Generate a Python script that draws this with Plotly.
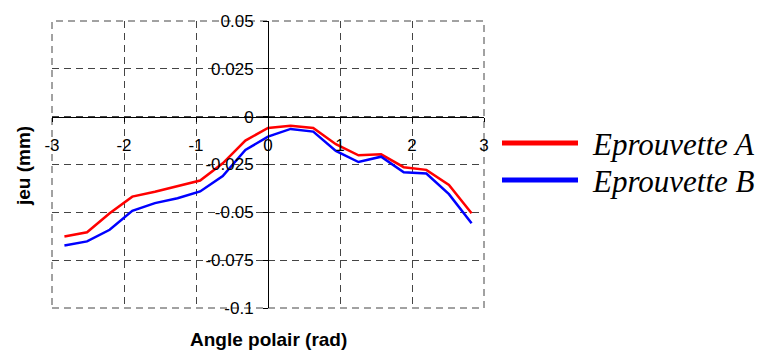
import numpy as np
import plotly.graph_objects as go

# angle polaire (rad) : -0.9*pi ... 0.9*pi, pas de pi/10
angles = [k * np.pi / 10 for k in range(-9, 10)]
jeu_A = [-0.0626, -0.0604, -0.0505, -0.0418, -0.0392, -0.0365, -0.0334, -0.0244, -0.0125,
         -0.0059, -0.0047, -0.0059, -0.0144, -0.0202, -0.0197, -0.0264, -0.0278, -0.0357, -0.0505]
jeu_B = [-0.0673, -0.0652, -0.0591, -0.0492, -0.0452, -0.0426, -0.0391, -0.0310, -0.0174,
         -0.0104, -0.0064, -0.0078, -0.0179, -0.0237, -0.0209, -0.0291, -0.0297, -0.0405, -0.0557]
noms = ["Eprouvette A", "Eprouvette B"]
couleurs = ["#ff0000", "#0000ff"]

x_ticks = [-3, -2, -1, 0, 1, 2, 3]
x_ticklabels = ["-3", "-2", "-1", "0", "1", "2", "3"]
y_ticks = [0.05, 0.025, 0, -0.025, -0.05, -0.075, -0.1]
y_ticklabels = ["0.05", "0.025", "0", "-0.025", "-0.05", "-0.075", "-0.1"]

fig = go.Figure()
for y, nom, c in zip([jeu_A, jeu_B], noms, couleurs):
    fig.add_trace(go.Scatter(x=angles, y=y, mode="lines", name=nom,
                             line=dict(color=c, width=2.5), showlegend=False))

W, H = 761, 351
l, r, t, b = 52, 277, 21, 43
pw, ph = W - l - r, H - t - b

def px(xp):
    return (xp - l) / pw

def py(yp):
    return (H - b - yp) / ph

axis_font = dict(family="Liberation Sans, Arial", size=17, color="black")
grille = "#444444"
tirets = "7px,5px"

fig.update_layout(
    width=W, height=H,
    margin=dict(l=l, r=r, t=t, b=b),
    plot_bgcolor="white", paper_bgcolor="white",
    font=axis_font,
    xaxis=dict(range=[-3, 3], tickvals=x_ticks, ticktext=x_ticklabels,
               anchor="free", position=0.1 / 0.15,
               showline=True, linecolor="black", linewidth=1,
               ticks="outside", ticklen=4, tickcolor="black",
               ticklabelstandoff=9,
               showgrid=True, gridcolor=grille, gridwidth=1, griddash=tirets,
               zeroline=False, tickfont=axis_font),
    yaxis=dict(range=[-0.1, 0.05], tickvals=y_ticks, ticktext=y_ticklabels,
               anchor="free", position=0.5,
               showline=True, linecolor="black", linewidth=1,
               ticks="outside", ticklen=5, tickcolor="black",
               ticklabelstandoff=6,
               showgrid=True, gridcolor=grille, gridwidth=1, griddash=tirets,
               zeroline=False, tickfont=axis_font),
)

# cadre en tirets
fig.add_shape(type="rect", xref="paper", yref="paper", x0=0, x1=1, y0=0, y1=1,
              line=dict(color=grille, width=1, dash=tirets), layer="below")

# titres des axes
titre_font = dict(family="Liberation Sans, Arial", size=19, color="black")
fig.add_annotation(text="<b>Angle polair (rad)</b>", xref="paper", yref="paper",
                   x=0.5, y=py(339), xanchor="center", yanchor="middle",
                   showarrow=False, font=titre_font)
fig.add_annotation(text="<b>jeu (mm)</b>", xref="paper", yref="paper",
                   x=px(23), y=py(166), xanchor="center", yanchor="middle",
                   showarrow=False, textangle=-90, font=titre_font)

# legende
for yp, nom, c in zip([143, 180], noms, couleurs):
    fig.add_shape(type="line", xref="paper", yref="paper",
                  x0=px(502), x1=px(578), y0=py(yp), y1=py(yp),
                  line=dict(color=c, width=5))
    fig.add_annotation(text=nom, xref="paper", yref="paper",
                       x=px(590), y=py(yp + 1), xanchor="left", yanchor="middle",
                       showarrow=False,
                       font=dict(family="Liberation Serif, Times New Roman", size=31,
                                 color="black", style="italic"))

fig.write_html("out.html", config={"displayModeBar": False},
               post_script="document.body.style.margin='0';")
